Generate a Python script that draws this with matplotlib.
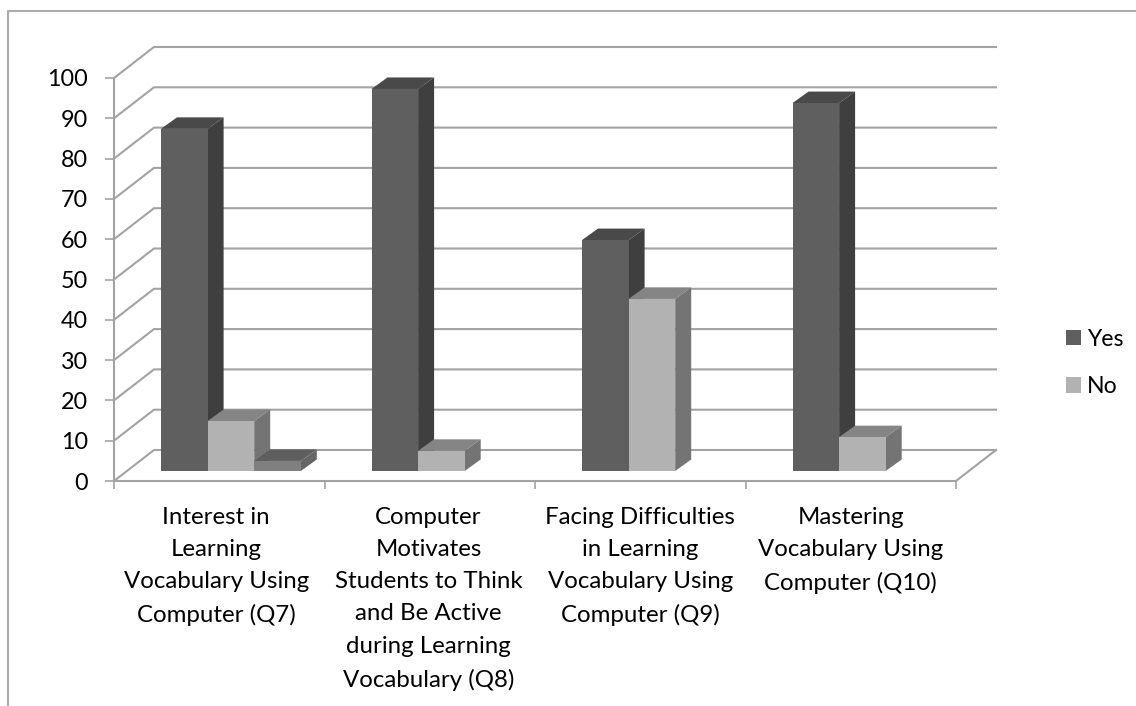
import matplotlib
matplotlib.use("Agg")
import matplotlib.pyplot as plt
from matplotlib.lines import Line2D
from matplotlib.patches import Patch, Polygon

plt.rcParams['font.family'] = ['Lato', 'DejaVu Sans']

categories = [
    "Interest in\nLearning\nVocabulary Using\nComputer (Q7)",
    "Computer\nMotivates\nStudents to Think\nand Be Active\nduring Learning\nVocabulary (Q8)",
    "Facing Difficulties\nin Learning\nVocabulary Using\nComputer (Q9)",
    "Mastering\nVocabulary Using\nComputer (Q10)",
]
yes_values = [84.9, 94.8, 57.3, 91.3]
no_values = [12.4, 5.0, 42.7, 8.4]
third_values = [2.5, 0, 0, 0]
y_ticks = list(range(0, 101, 10))

W, H = 1136, 706
fig = plt.figure(figsize=(W / 100, H / 100), dpi=100)
ax = fig.add_axes([114 / W, 1 - 481 / H, (956 - 114) / W, (481 - 78) / H])
ax.set_xlim(0, 4)
ax.set_ylim(0, 100)
ax.patch.set_alpha(0)

# pixel sizes turned into data units
px_x = 4 / (956 - 114)
px_y = 100 / (481 - 78)
wall_dx, wall_dy = 40 * px_x, 31 * px_y
bar_dx, bar_dy = 16 * px_x, 11.5 * px_y
bar_w = 46.6 * px_x
bar_start = 47 * px_x
bar_base = 10 * px_y

GRID = '#a3a3a3'
LW = 1.5

# outer chart frame, only top and left show
fig.add_artist(Line2D([8 / W, 8 / W, 1], [0, 1 - 11 / H, 1 - 11 / H], color='#ababab', lw=1.5))

# back wall gridlines and the slanted bits on the side wall
for v in y_ticks:
    ax.plot([0, wall_dx, 4 + wall_dx], [v, v + wall_dy, v + wall_dy],
            color=GRID, lw=LW, clip_on=False, solid_joinstyle='miter', zorder=1)
ax.plot([4, 4 + wall_dx], [0, wall_dy], color=GRID, lw=LW, clip_on=False, zorder=1)


def draw_bar(x, value, front, top, side):
    y0 = bar_base
    y1 = bar_base + value
    ax.add_patch(Polygon([(x, y1), (x + bar_dx, y1 + bar_dy), (x + bar_w + bar_dx, y1 + bar_dy), (x + bar_w, y1)],
                         facecolor=top, edgecolor='none', clip_on=False, zorder=3))
    ax.add_patch(Polygon([(x + bar_w, y0), (x + bar_w + bar_dx, y0 + bar_dy), (x + bar_w + bar_dx, y1 + bar_dy), (x + bar_w, y1)],
                         facecolor=side, edgecolor='none', clip_on=False, zorder=3))
    ax.add_patch(Polygon([(x, y0), (x + bar_w, y0), (x + bar_w, y1), (x, y1)],
                         facecolor=front, edgecolor='none', clip_on=False, zorder=3))


for i in range(len(categories)):
    x = i + bar_start
    draw_bar(x, yes_values[i], '#5f5f5f', '#494949', '#3f3f3f')
    draw_bar(x + bar_w, no_values[i], '#b2b2b2', '#858585', '#747474')
    if third_values[i] > 0:
        draw_bar(x + 2 * bar_w, third_values[i], '#7f7f7f', '#5e5e5e', '#666666')

# axes
for s in ['top', 'right']:
    ax.spines[s].set_visible(False)
for s in ['left', 'bottom']:
    ax.spines[s].set_color(GRID)
    ax.spines[s].set_linewidth(LW)
    ax.spines[s].set_zorder(2)

ax.set_yticks(y_ticks)
ax.set_xticks([0, 1, 2, 3, 4])
ax.set_xticklabels([])
ax.set_xticks([0.486, 1.494, 2.5, 3.5], minor=True)
ax.set_xticklabels(categories, minor=True, fontsize=17.3, linespacing=1.66, color='black')
ax.tick_params(axis='x', which='major', length=5.8, width=1.2, color=GRID)
ax.tick_params(axis='x', which='minor', length=0, pad=18.5)
ax.tick_params(axis='y', length=6.5, width=1.2, color=GRID, labelsize=16.8, pad=12, labelcolor='black')

handles = [Patch(facecolor='#5f5f5f', label='Yes'), Patch(facecolor='#b2b2b2', label='No')]
ax.legend(handles=handles, loc='center left', bbox_to_anchor=(1066 / W, 1 - 363 / H),
          bbox_transform=fig.transFigure, frameon=False, fontsize=16.6,
          handlelength=0.65, handleheight=0.65, handletextpad=0.26, labelspacing=1.15,
          borderpad=0, borderaxespad=0, labelcolor='black')

fig.savefig('out.png', dpi=100)
